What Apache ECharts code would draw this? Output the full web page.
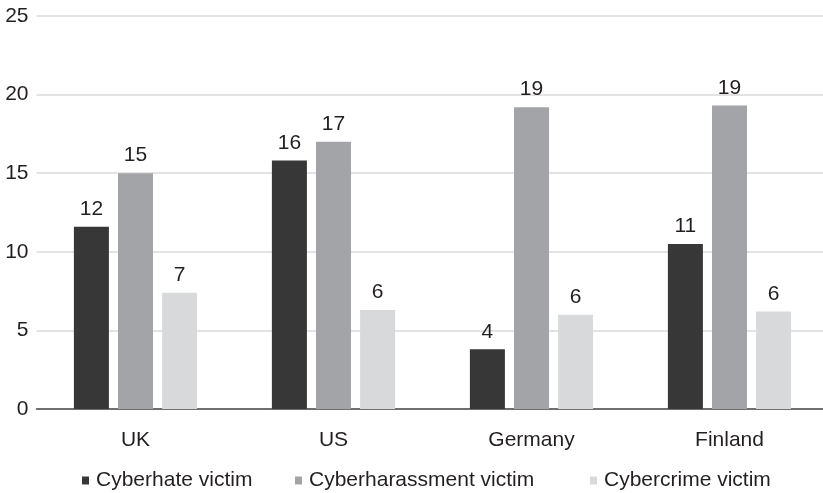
<!DOCTYPE html>
<html>
<head>
<meta charset="utf-8">
<script src="https://cdn.jsdelivr.net/npm/echarts@6/dist/echarts.min.js"></script>
<style>
html,body{margin:0;padding:0;background:#fff;}
#chart{width:823px;height:493px;}
</style>
</head>
<body>
<div id="chart"></div>
<script>
const categories = ['UK', 'US', 'Germany', 'Finland'];
const seriesNames = ['Cyberhate victim', 'Cyberharassment victim', 'Cybercrime victim'];
const cyberhate = [11.6, 15.8, 3.8, 10.5];
const cyberharassment = [15.0, 17.0, 19.2, 19.3];
const cybercrime = [7.4, 6.3, 6.0, 6.2];
const yTicks = [0, 5, 10, 15, 20, 25];

const colors = ['#373737', '#a3a4a7', '#d8d9db'];
const textColor = '#231f20';
const fontFamily = "'Liberation Sans', Arial, sans-serif";
const fs = 21;

const chart = echarts.init(document.getElementById('chart'), null, {renderer: 'canvas'});

const values = [cyberhate, cyberharassment, cybercrime];
const legendLefts = [77, 290, 585];

chart.setOption({
  animation: false,
  backgroundColor: '#ffffff',
  grid: {left: 36.5, top: 16, width: 792, height: 393, containLabel: false, outerBoundsMode: 'none'},
  legend: seriesNames.map((n, i) => ({
    data: [n],
    left: legendLefts[i],
    top: 465,
    icon: 'rect',
    itemWidth: 7,
    itemHeight: 8,
    selectedMode: false,
    textStyle: {color: textColor, fontSize: fs, fontFamily: fontFamily, padding: [0, 0, 0, 2]}
  })),
  xAxis: {
    type: 'category',
    data: categories,
    axisTick: {show: false},
    axisLine: {lineStyle: {color: '#4a4a4a', width: 1.5}},
    axisLabel: {color: textColor, fontSize: fs, fontFamily: fontFamily, margin: 21}
  },
  yAxis: {
    type: 'value',
    min: yTicks[0],
    max: yTicks[yTicks.length - 1],
    interval: 5,
    axisLine: {show: false},
    axisTick: {show: false},
    splitLine: {lineStyle: {color: '#dadada', width: 1.5}},
    axisLabel: {color: textColor, fontSize: fs, fontFamily: fontFamily, margin: 8}
  },
  series: seriesNames.map((n, i) => ({
    name: n,
    type: 'bar',
    data: values[i],
    barWidth: 35,
    barGap: '26%',
    itemStyle: {color: colors[i]},
    label: {
      show: true,
      position: 'top',
      distance: 7,
      color: textColor,
      fontSize: fs,
      fontFamily: fontFamily,
      formatter: p => Math.round(p.value)
    }
  }))
});
</script>
</body>
</html>
